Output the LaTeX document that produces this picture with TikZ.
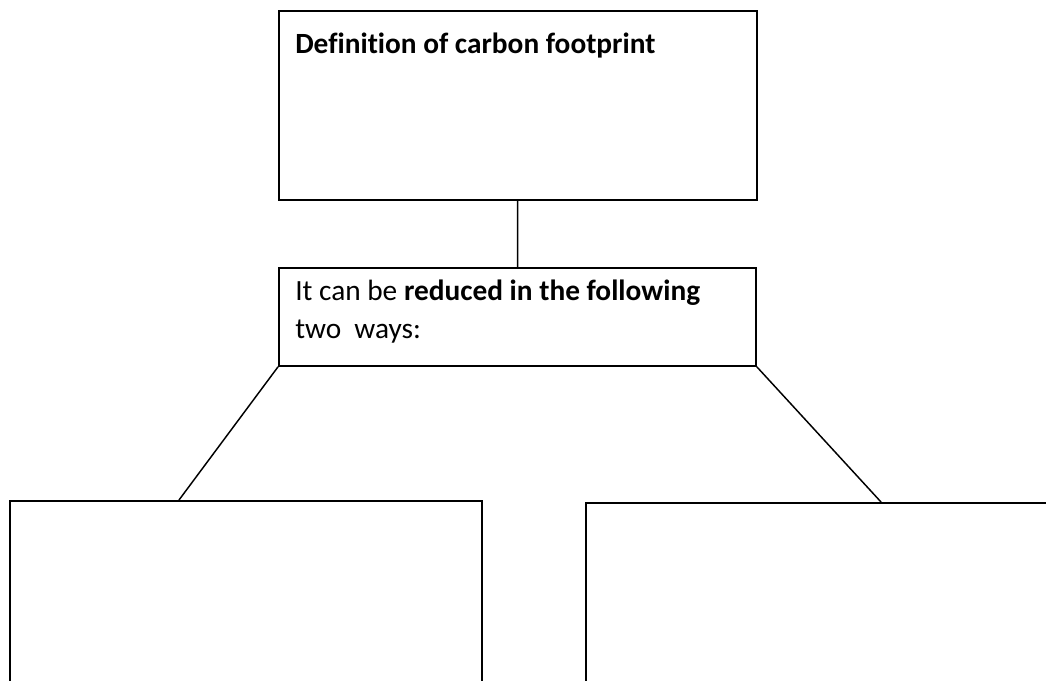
\documentclass[tikz,border=0pt]{standalone}
\usepackage{fontspec}
\setmainfont{Carlito}[Ligatures=CommonOff]
\usetikzlibrary{positioning}
\begin{document}
\begin{tikzpicture}[x=0.75pt,y=-0.75pt,box/.style={draw,line width=1.4pt,anchor=north west,inner sep=0pt},txt/.style={anchor=north west,align=left,inner sep=0pt,font=\fontsize{22}{28.5}\selectfont},link/.style={draw,line width=1.1pt}]
    \useasboundingbox (0,0) rectangle (1046,681);
    \clip (0,0) rectangle (1046,681);
    
    \node[box,minimum width=358.5pt,minimum height=141.75pt] (def) at (278,10) {};
    \node[txt] (deftxt) at ([shift={(17,23)}]def.north west) {\textbf{Definition of carbon footprint}};
    
    \node[box,minimum width=357.75pt,minimum height=73.5pt] (red) at (278,267) {};
    \node[txt] (redtxt) at ([shift={(17,13)}]red.north west) {It can be \textbf{reduced in the following}\\two~ ways:};
    
    \node[box,minimum width=354pt,minimum height=165pt] (wayA) at (9,500) {};
    \node[box,minimum width=386.25pt,minimum height=165pt] (wayB) at (585,502) {};
    
    \draw[link] (def) -- (red);
    \draw[link] (red.south west) -- ([shift={(170,0)}]wayA.north west);
    \draw[link] (red.south east) -- ([shift={(296,0)}]wayB.north west);
    
\end{tikzpicture}
\end{document}
